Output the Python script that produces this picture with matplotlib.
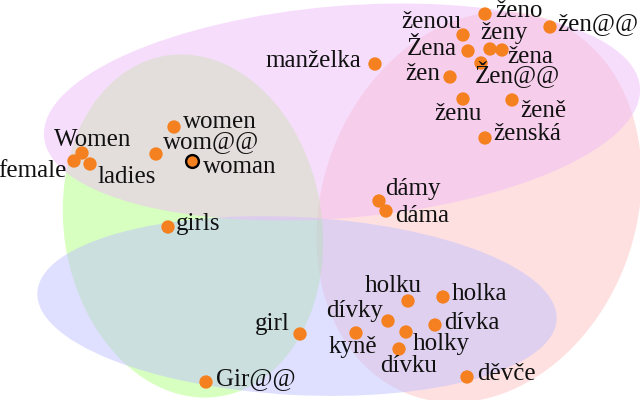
import matplotlib
matplotlib.use("Agg")
import matplotlib.pyplot as plt
from matplotlib.patches import Ellipse

# ---- data (positions in the 2-D embedding) ----
words = ["Women", "female", "ladies", "wom@@", "women", "woman", "girls",
         "manželka", "ženou", "ženo", "ženy", "žena", "Žena", "Žen@@", "žen",
         "žen@@", "ženu", "ženě", "ženská", "dámy", "dáma",
         "holku", "holka", "dívky", "dívka", "kyně", "holky", "dívku", "děvče",
         "girl", "Gir@@"]
xs = [82, 74, 90, 156, 174, 192, 168,
      375, 463, 485, 490, 502, 468, 481, 450,
      550, 463, 512, 485, 379, 386,
      408, 443, 388, 435, 356, 406, 399, 467,
      300, 206]
ys = [153, 161, 164, 154, 127, 161, 227,
      64, 35, 14, 49, 50, 51, 63, 77,
      27, 99, 100, 138, 201, 211,
      301, 297, 321, 325, 333, 332, 349, 377,
      334, 382]
highlight = "woman"

# cluster regions: center x, center y, width, height, angle
regions = {
    "red":   (479, 207, 314, 400, 20),
    "green": (193, 226, 258, 345, -9),
    "blue":  (297, 306, 520, 178, 3.0),
    "pink":  (342, 112, 598, 212, -4.8),
}
region_colors = {"red": "#ffc3c3", "green": "#b1ff81",
                 "blue": "#c1c1ff", "pink": "#efbdf9"}

# ---- label layout: (dx px, dy px up, ha) relative to the dot ----
layout = {
    "Women": (11, 7, "center"), "female": (-7, -16, "right"),
    "ladies": (7, -19, "left"), "wom@@": (7, 6, "left"),
    "women": (9, -1, "left"), "woman": (11, -12, "left"),
    "girls": (8, -3, "left"), "manželka": (-14, -3, "right"),
    "ženou": (-2, 7, "right"), "ženo": (10, -3, "left"),
    "ženy": (14, 10, "center"), "žena": (5, -13, "left"),
    "Žena": (-11, -4, "right"), "Žen@@": (-6, -19, "left"),
    "žen": (-10, -3, "right"), "žen@@": (7, -3, "left"),
    "ženu": (-5, -21, "center"), "ženě": (8, -17, "left"),
    "ženská": (8, -2, "left"), "dámy": (6, 6, "left"),
    "dáma": (9, -11, "left"), "holku": (-15, 9, "center"),
    "holka": (9, -3, "left"), "dívky": (-5, 4, "right"),
    "dívka": (9, -4, "left"), "kyně": (-3, -20, "center"),
    "holky": (7, -18, "left"), "dívku": (10, -23, "center"),
    "děvče": (10, -3, "left"), "girl": (-10, 4, "right"),
    "Gir@@": (10, -3, "left"),
}

fig = plt.figure(figsize=(6.4, 4.0), dpi=100)
ax = fig.add_axes([0, 0, 1, 1])
ax.set_xlim(0, 640)
ax.set_ylim(400, 0)
ax.axis("off")

for z, name in enumerate(["red", "green", "blue", "pink"]):
    cx, cy, w, h, ang = regions[name]
    ax.add_patch(Ellipse((cx, cy), w, h, angle=ang, facecolor=region_colors[name],
                         edgecolor="none", alpha=0.5, zorder=1 + z))

orange = "#f5801f"
for w_, x, y in zip(words, xs, ys):
    if w_ == highlight:
        ax.scatter([x], [y], s=85, color=orange, edgecolor="black",
                   linewidth=1.7, zorder=10)
    else:
        ax.scatter([x], [y], s=92, color=orange, edgecolor="none", zorder=10)
    dx, dy, ha = layout[w_]
    ax.annotate(w_, (x, y), xytext=(dx, dy), textcoords="offset pixels",
                ha=ha, va="baseline", fontsize=18,
                family=["Liberation Serif", "DejaVu Serif"],
                color="#111111", zorder=11)

fig.savefig("out.png", dpi=100)
